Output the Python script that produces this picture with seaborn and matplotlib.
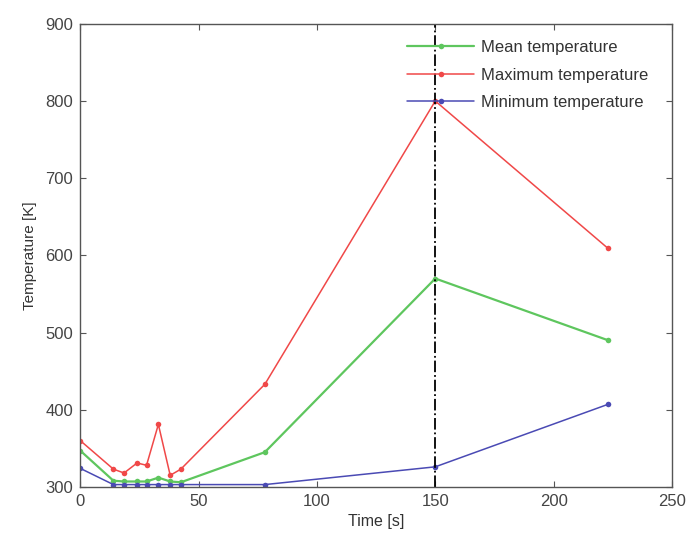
import numpy as np
import pandas as pd
import matplotlib
matplotlib.use("Agg")
import matplotlib.pyplot as plt
import seaborn as sns

# data
time_s = [0, 14, 18.5, 24, 28, 33, 38, 42.5, 78, 150, 223]
mean_temp = [347, 308, 307, 307, 307, 312, 307, 306, 345, 570, 490]
max_temp = [360, 323, 318, 331, 328, 381, 315, 323, 433, 800, 609]
min_temp = [324, 303, 303, 303, 303, 303, 303, 303, 303, 326, 407]
series_names = ["Mean temperature", "Maximum temperature", "Minimum temperature"]
marker_time = 150

sns.set_style("white")
plt.rcParams['font.family'] = ['Liberation Sans', 'DejaVu Sans']

fig = plt.figure(figsize=(6.92, 5.41), dpi=100)
ax = fig.add_axes([0.116, 0.100, 0.855, 0.856])

colors = ["#5ec65e", "#f04848", "#4a4ab4"]
widths = [1.6, 1.1, 1.1]
for name, vals, c, lw in zip(series_names, [mean_temp, max_temp, min_temp], colors, widths):
    df = pd.DataFrame({"t": time_s, "T": vals})
    sns.lineplot(data=df, x="t", y="T", ax=ax, color=c, lw=lw, marker="o",
                 markersize=4, markeredgewidth=0, label=name)

ax.axvline(marker_time, color="black", lw=1.3, ls="-.")

ax.set_xlim(0, 250)
ax.set_ylim(300, 900)
ax.set_xticks(np.arange(0, 251, 50))
ax.set_yticks(np.arange(300, 901, 100))
ax.set_xlabel("Time [s]", fontsize=11.5, color="#333333", labelpad=4)
ax.set_ylabel("Temperature [K]", fontsize=11, color="#333333", labelpad=6)
ax.tick_params(direction="in", length=4, width=0.8, colors="#555555",
               labelcolor="#444444", labelsize=12, top=True, right=True,
               bottom=True, left=True, pad=5)
for s in ax.spines.values():
    s.set_color("#555555")
    s.set_linewidth(1.0)

leg = ax.legend(loc="upper right", bbox_to_anchor=(0.985, 0.997), frameon=False,
                fontsize=12, handlelength=4.0, handletextpad=0.4,
                labelspacing=0.75)
for t in leg.get_texts():
    t.set_color("#333333")

fig.savefig("out.png", dpi=100)
